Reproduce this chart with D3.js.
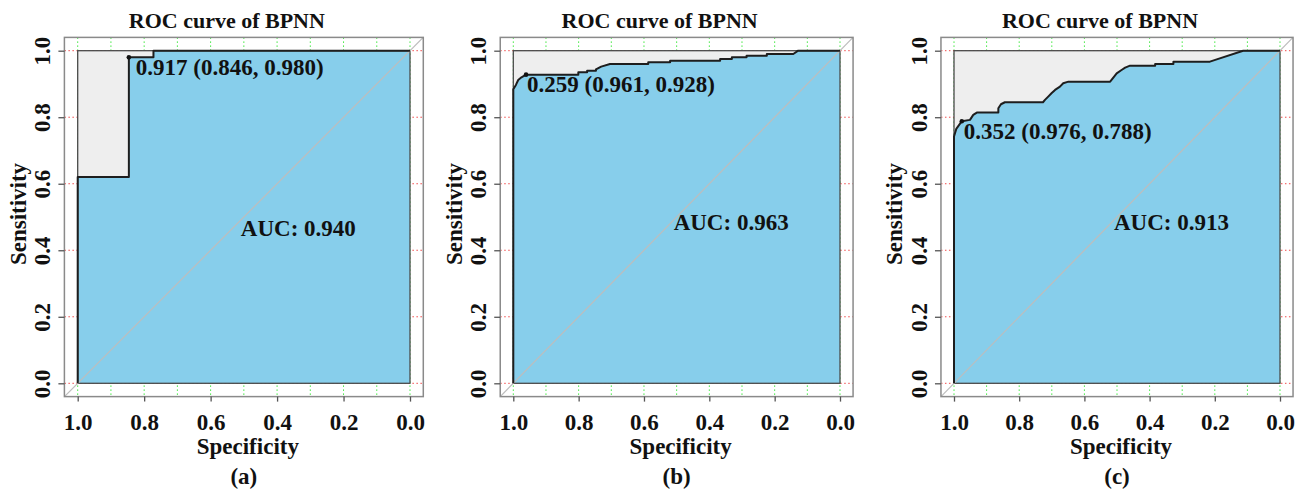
<!DOCTYPE html>
<html>
<head>
<meta charset="utf-8">
<script src="https://cdn.jsdelivr.net/npm/d3@7"></script>
<style>
  body { margin: 0; background: #fff; }
  svg text { font-family: "Liberation Serif", "Times New Roman", serif; font-weight: bold; fill: #111; }
</style>
</head>
<body>
<div id="chart"></div>
<script>
/**
 * DATA
 **/
const panelTags = ["(a)", "(b)", "(c)"];
const titles = ["ROC curve of BPNN", "ROC curve of BPNN", "ROC curve of BPNN"];
const aucValues = [0.940, 0.963, 0.913];
const bestThreshold = [0.917, 0.259, 0.352];
const bestSpec = [0.846, 0.961, 0.976];
const bestSens = [0.980, 0.928, 0.788];

// ROC curve vertices, specificity / sensitivity
const specA = [1, 1, 0.846, 0.846, 0.772, 0.772, 0];
const sensA = [0, 0.62, 0.62, 0.98, 0.98, 1, 1];

const specB = [1, 1, 0.992, 0.985, 0.975, 0.961, 0.801, 0.801, 0.774, 0.774, 0.747, 0.747, 0.731, 0.704,
  0.587, 0.587, 0.52, 0.52, 0.367, 0.367, 0.331, 0.331, 0.286, 0.286, 0.224, 0.224, 0.143, 0.128, 0];
const sensB = [0, 0.884, 0.897, 0.912, 0.92, 0.928, 0.928, 0.935, 0.935, 0.94, 0.94, 0.944, 0.952, 0.96,
  0.96, 0.965, 0.965, 0.97, 0.97, 0.975, 0.975, 0.98, 0.98, 0.985, 0.985, 0.99, 0.99, 1, 1];

const specC = [1, 1, 0.993, 0.976, 0.951, 0.941, 0.93, 0.864, 0.864, 0.856, 0.844, 0.727, 0.721, 0.711,
  0.701, 0.69, 0.675, 0.665, 0.649, 0.521, 0.501, 0.486, 0.475, 0.46, 0.383, 0.383, 0.327, 0.327,
  0.215, 0.194, 0.113, 0];
const sensC = [0, 0.742, 0.765, 0.788, 0.792, 0.807, 0.814, 0.814, 0.827, 0.839, 0.845, 0.845, 0.852, 0.862,
  0.872, 0.882, 0.892, 0.902, 0.907, 0.907, 0.932, 0.942, 0.949, 0.955, 0.955, 0.96, 0.96, 0.967,
  0.967, 0.974, 1, 1];

const xTicks = [1, 0.8, 0.6, 0.4, 0.2, 0];
const yTicks = [0, 0.2, 0.4, 0.6, 0.8, 1];
const gridX = d3.range(0, 11).map(i => i / 10);
const gridY = d3.range(0, 6).map(i => i / 5);

/**
 * LAYOUT
 **/
const width = 1305, height = 489;
const panels = [
  { spec: specA, sens: sensA, x0: 77.7, x1: 410, labelDx: 7, aucY: 0.467 },
  { spec: specB, sens: sensB, x0: 513.3, x1: 840, labelDx: 1, aucY: 0.485 },
  { spec: specC, sens: sensC, x0: 954, x1: 1280, labelDx: 2, aucY: 0.485 }
];
const yTop = 50.7, yBottom = 383.3;
const fontSize = 23, titleSize = 22;
const fmt = d3.format(".3f"), tickFmt = d3.format(".1f");

const svg = d3.select("#chart")
  .append("svg")
  .attr("width", width)
  .attr("height", height);

panels.forEach((p, i) => {
  const xScale = d3.scaleLinear().domain([1, 0]).range([p.x0, p.x1]);
  const yScale = d3.scaleLinear().domain([0, 1]).range([yBottom, yTop]);

  // R style 4% padding around the data range
  const bx0 = xScale(1.04), bx1 = xScale(-0.04);
  const by0 = yScale(1.04), by1 = yScale(-0.04);

  const g = svg.append("g");

  g.append("clipPath")
    .attr("id", "clip" + i)
    .append("rect")
    .attr("x", bx0).attr("y", by0)
    .attr("width", bx1 - bx0).attr("height", by1 - by0);

  const plot = g.append("g").attr("clip-path", `url(#clip${i})`);

  // grid
  plot.selectAll(".gx")
    .data(gridX)
    .join("line")
    .attr("x1", d => xScale(d)).attr("x2", d => xScale(d))
    .attr("y1", by0).attr("y2", by1)
    .attr("stroke", "#3fe83f")
    .attr("stroke-width", 1)
    .attr("stroke-dasharray", "1.5,2.5");

  plot.selectAll(".gy")
    .data(gridY)
    .join("line")
    .attr("y1", d => yScale(d)).attr("y2", d => yScale(d))
    .attr("x1", bx0).attr("x2", bx1)
    .attr("stroke", "#f04a4a")
    .attr("stroke-width", 1)
    .attr("stroke-dasharray", "1.5,2.5");

  // max auc polygon
  plot.append("rect")
    .attr("x", xScale(1)).attr("y", yScale(1))
    .attr("width", xScale(0) - xScale(1))
    .attr("height", yScale(0) - yScale(1))
    .attr("fill", "#eeeeee");

  const pts = p.spec.map((s, k) => [s, p.sens[k]]);

  // auc polygon
  const area = d3.line()
    .x(d => xScale(d[0]))
    .y(d => yScale(d[1]));
  plot.append("path")
    .attr("d", area([...pts, [0, 0], [1, 0]]) + "Z")
    .attr("fill", "#87ceeb");

  plot.append("rect")
    .attr("x", xScale(1)).attr("y", yScale(1))
    .attr("width", xScale(0) - xScale(1))
    .attr("height", yScale(0) - yScale(1))
    .attr("fill", "none")
    .attr("stroke", "#4a4a4a")
    .attr("stroke-width", 1.3);

  // chance diagonal
  plot.append("line")
    .attr("x1", xScale(1.04)).attr("y1", yScale(-0.04))
    .attr("x2", xScale(-0.04)).attr("y2", yScale(1.04))
    .attr("stroke", "#bdbdbd")
    .attr("stroke-width", 1.2);

  // roc curve
  plot.append("path")
    .attr("d", area(pts))
    .attr("fill", "none")
    .attr("stroke", "#1e1e1e")
    .attr("stroke-width", 2)
    .attr("stroke-linejoin", "round");

  // box
  g.append("rect")
    .attr("x", bx0).attr("y", by0)
    .attr("width", bx1 - bx0).attr("height", by1 - by0)
    .attr("fill", "none")
    .attr("stroke", "#8a8a8a")
    .attr("stroke-width", 1.5);

  // axes
  const xAxis = d3.axisBottom(xScale).tickValues(xTicks).tickFormat(tickFmt).tickSize(5);
  const gx = g.append("g")
    .attr("transform", `translate(0,${by1})`)
    .call(xAxis);
  gx.select(".domain").remove();
  gx.selectAll(".tick line").attr("stroke", "#555").attr("stroke-width", 1.3);
  gx.selectAll(".tick text")
    .attr("y", 33.4).attr("dy", null)
    .style("font-size", fontSize + "px");

  const yAxis = d3.axisLeft(yScale).tickValues(yTicks).tickFormat(tickFmt).tickSize(6);
  const gy = g.append("g")
    .attr("transform", `translate(${bx0},0)`)
    .call(yAxis);
  gy.select(".domain").remove();
  gy.selectAll(".tick line").attr("stroke", "#555").attr("stroke-width", 1.3);
  gy.selectAll(".tick text")
    .attr("x", null).attr("dy", null)
    .attr("text-anchor", "middle")
    .attr("transform", "translate(-14.4,0) rotate(-90)")
    .style("font-size", fontSize + "px");

  const cx = (bx0 + bx1) / 2;

  // titles and labels
  g.append("text")
    .attr("x", cx - 17).attr("y", by0 - 9)
    .attr("text-anchor", "middle")
    .style("font-size", titleSize + "px")
    .text(titles[i]);

  g.append("text")
    .attr("x", cx + 4).attr("y", by1 + 57.4)
    .attr("text-anchor", "middle")
    .style("font-size", fontSize + "px")
    .text("Specificity");

  g.append("text")
    .attr("x", cx).attr("y", by1 + 87.4)
    .attr("text-anchor", "middle")
    .style("font-size", fontSize + "px")
    .text(panelTags[i]);

  g.append("text")
    .attr("transform", `translate(${bx0 - 38.7},${(by0 + by1) / 2 - 3}) rotate(-90)`)
    .attr("text-anchor", "middle")
    .style("font-size", fontSize + "px")
    .text("Sensitivity");

  // best threshold
  g.append("circle")
    .attr("cx", xScale(bestSpec[i])).attr("cy", yScale(bestSens[i]))
    .attr("r", 2.3)
    .attr("fill", "#111");

  g.append("text")
    .attr("x", xScale(bestSpec[i]) + p.labelDx)
    .attr("y", yScale(bestSens[i]) + 17.5)
    .style("font-size", fontSize + "px")
    .text(`${fmt(bestThreshold[i])} (${fmt(bestSpec[i])}, ${fmt(bestSens[i])})`);

  g.append("text")
    .attr("x", xScale(0.5) - 3).attr("y", yScale(p.aucY))
    .attr("dy", "0.35em")
    .style("font-size", fontSize + "px")
    .text(`AUC: ${fmt(aucValues[i])}`);
});
</script>
</body>
</html>
